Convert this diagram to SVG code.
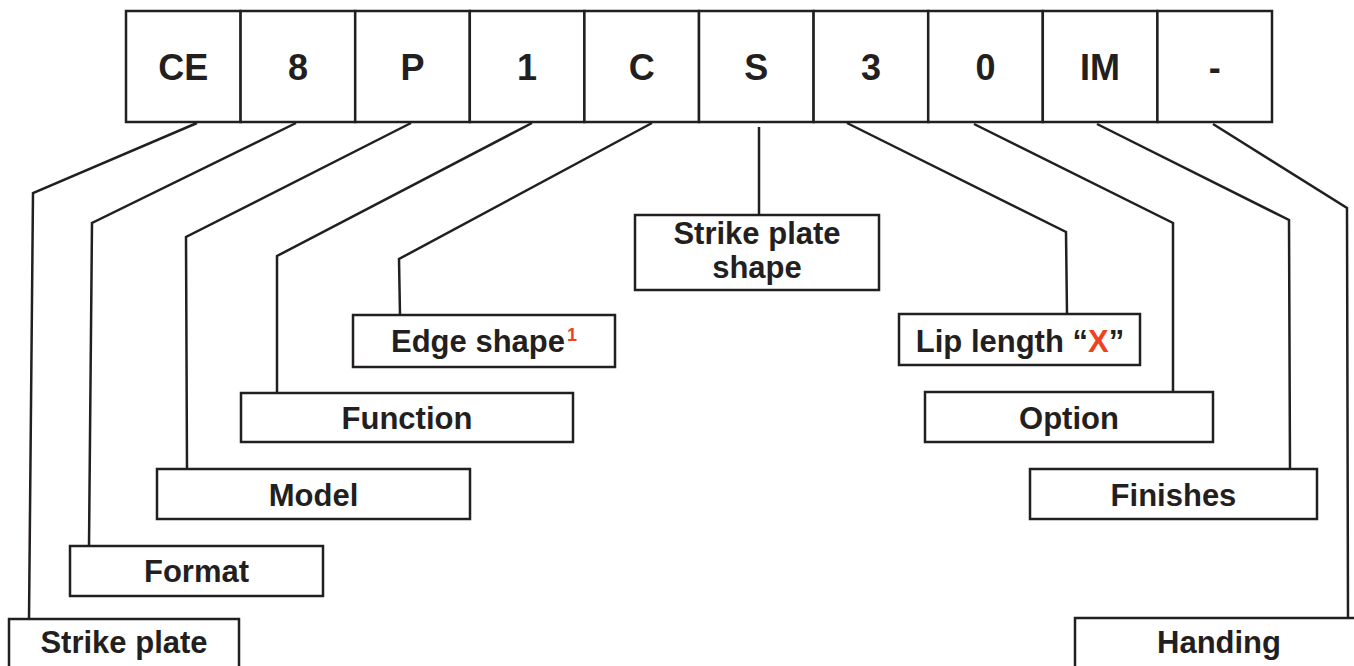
<svg xmlns="http://www.w3.org/2000/svg" width="1354" height="666" viewBox="0 0 1354 666">
<style>
  .box { fill: #ffffff; stroke: #231f20; stroke-width: 2.5; }
  .code { font-family: "Liberation Sans", Arial, sans-serif; font-weight: bold; font-size: 36px; fill: #231f20; text-anchor: middle; }
  .lbl { font-family: "Liberation Sans", Arial, sans-serif; font-weight: bold; font-size: 31px; fill: #231f20; text-anchor: middle; }
  .red { fill: #ef4123; }
  .conn { fill: none; stroke: #231f20; stroke-width: 2.5; stroke-linejoin: miter; }
</style>
<rect width="1354" height="666" fill="#ffffff"/>

<g id="code-row">
  <g id="cell-CE"><rect class="box" x="126" y="11" width="114.6" height="111"/><text class="code" x="183.3" y="80">CE</text></g>
  <g id="cell-8"><rect class="box" x="240.6" y="11" width="114.6" height="111"/><text class="code" x="297.9" y="80">8</text></g>
  <g id="cell-P"><rect class="box" x="355.2" y="11" width="114.6" height="111"/><text class="code" x="412.5" y="80">P</text></g>
  <g id="cell-1"><rect class="box" x="469.8" y="11" width="114.6" height="111"/><text class="code" x="527.1" y="80">1</text></g>
  <g id="cell-C"><rect class="box" x="584.4" y="11" width="114.6" height="111"/><text class="code" x="641.7" y="80">C</text></g>
  <g id="cell-S"><rect class="box" x="699" y="11" width="114.6" height="111"/><text class="code" x="756.3" y="80">S</text></g>
  <g id="cell-3"><rect class="box" x="813.6" y="11" width="114.6" height="111"/><text class="code" x="870.9" y="80">3</text></g>
  <g id="cell-0"><rect class="box" x="928.2" y="11" width="114.6" height="111"/><text class="code" x="985.5" y="80">0</text></g>
  <g id="cell-IM"><rect class="box" x="1042.8" y="11" width="114.6" height="111"/><text class="code" x="1100.1" y="80">IM</text></g>
  <g id="cell-dash"><rect class="box" x="1157.4" y="11" width="114.6" height="111"/><text class="code" x="1214.7" y="80">-</text></g>
</g>

<g id="connectors">
  <polyline class="conn" points="197,123 33,193 29,619"/>
  <polyline class="conn" points="296,123 92,223 89,546"/>
  <polyline class="conn" points="411,123 186,237 187,469"/>
  <polyline class="conn" points="532,123 277,256 277,393"/>
  <polyline class="conn" points="652,123 399,259 400,315"/>
  <polyline class="conn" points="759,127 759,215"/>
  <polyline class="conn" points="847,123 1066,232 1067,314"/>
  <polyline class="conn" points="974,124 1173,223 1173,392"/>
  <polyline class="conn" points="1097,124 1289,220 1290,469"/>
  <polyline class="conn" points="1213,124 1347,208 1348,618"/>
</g>

<g id="node-strike-plate"><rect class="box" x="9" y="619" width="230" height="70"/><text class="lbl" x="124" y="653">Strike plate</text></g>
<g id="node-format"><rect class="box" x="70" y="546" width="253" height="50"/><text class="lbl" x="196.5" y="582">Format</text></g>
<g id="node-model"><rect class="box" x="157" y="469" width="313" height="50"/><text class="lbl" x="313.5" y="506">Model</text></g>
<g id="node-function"><rect class="box" x="241" y="393" width="332" height="49"/><text class="lbl" x="407" y="429">Function</text></g>
<g id="node-edge-shape"><rect class="box" x="353" y="315" width="262" height="52"/><text class="lbl" x="484" y="352">Edge shape<tspan class="red" font-size="18" dx="2" dy="-11">1</tspan></text></g>
<g id="node-strike-plate-shape"><rect class="box" x="635" y="215" width="244" height="75"/><text class="lbl" x="757" y="244">Strike plate<tspan x="757" dy="34">shape</tspan></text></g>
<g id="node-lip-length"><rect class="box" x="899" y="314" width="241" height="51"/><text class="lbl" x="1020" y="352">Lip length “<tspan class="red">X</tspan>”</text></g>
<g id="node-option"><rect class="box" x="925" y="392" width="288" height="50"/><text class="lbl" x="1069" y="429">Option</text></g>
<g id="node-finishes"><rect class="box" x="1030" y="469" width="287" height="50"/><text class="lbl" x="1173.5" y="506">Finishes</text></g>
<g id="node-handing"><rect class="box" x="1075" y="618" width="290" height="70"/><text class="lbl" x="1219" y="653">Handing</text></g>
</svg>
